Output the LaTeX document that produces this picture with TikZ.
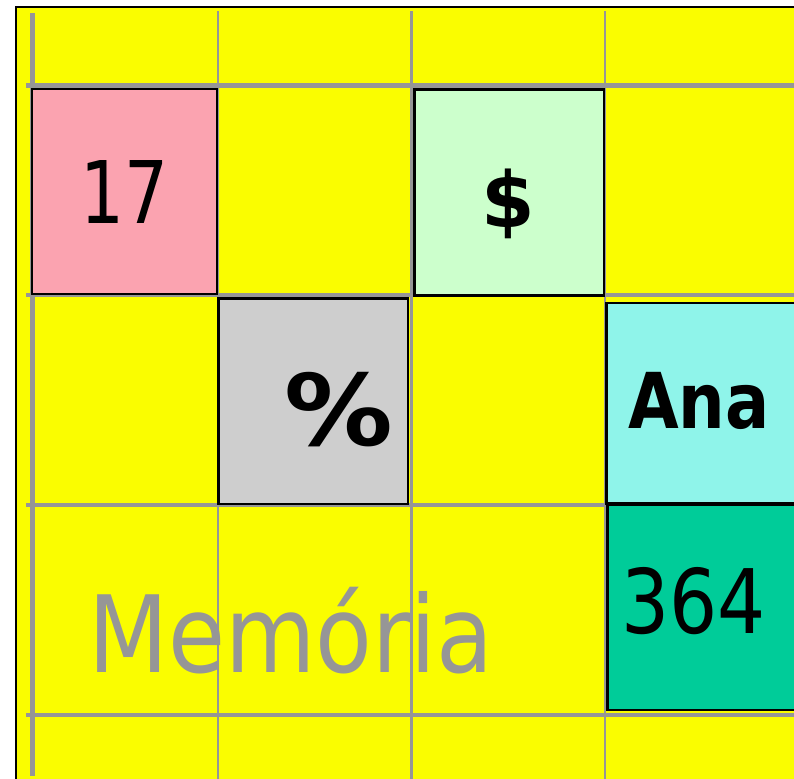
\documentclass[tikz,border=0pt]{standalone}
\usepackage{fontspec}
\setmainfont{DejaVu Sans}
\usepackage{graphicx}
\usepackage{xcolor}
\definecolor{memyellow}{RGB}{250,253,0}
\definecolor{gridgray}{RGB}{150,150,150}
\definecolor{softpink}{RGB}{251,163,176}
\definecolor{softgreen}{RGB}{204,255,204}
\definecolor{softgray}{RGB}{206,206,206}
\definecolor{softcyan}{RGB}{143,244,234}
\definecolor{seagreen}{RGB}{0,204,153}
\tikzset{
  gridthick/.style={draw=gridgray, line width=3.2pt},
  gridthin/.style={draw=gridgray, line width=1.9pt},
  cell/.style={draw=black, line width=1.7pt},
  value/.style={anchor=base, inner sep=0pt, text=black},
  label/.style={anchor=base, inner sep=0pt, text=gridgray},
}

\begin{document}
\begin{tikzpicture}[x=0.75pt, y=-0.75pt]
\useasboundingbox (0,0) rectangle (794,779);
\clip (0,0) rectangle (794,779);
\fill[white] (0,0) rectangle (794,779);
% memory area
\draw[fill=memyellow, line width=1.2pt] (16,7) rectangle (820,800);

% grid
\draw[gridthick] (32.5,13) -- (32.5,776);
\foreach \gx in {218,411.5,605}
  \draw[gridthin] (\gx,11) -- (\gx,790);
\foreach \gy in {85.5,295,505,715}
  \draw[gridthick] (26,\gy) -- (820,\gy);

% occupied cells
\draw[cell, fill=softpink] (32,89) rectangle (217,294);
\draw[cell, fill=softgreen] (414.5,89.5) rectangle (604,295.5);
\draw[cell, fill=softgray] (218.5,298.5) rectangle (408,504);
\draw[cell, fill=softcyan] (606.5,303) rectangle (820,503.5);
\draw[cell, fill=seagreen] (607.5,505) rectangle (820,710);

% contents
\node[value] (v17) at (124.5,223) {\fontsize{64.8pt}{70pt}\selectfont\scalebox{0.8}[1]{17}};
\node[value] (vdollar) at (508,227) {\fontsize{57.8pt}{62pt}\selectfont\bfseries\$};
\node[value] (vpercent) at (338.5,445) {\fontsize{74pt}{80pt}\selectfont\bfseries\scalebox{1.1}[1]{\%}};
\node[value] (vana) at (699,428) {\fontsize{57.8pt}{62pt}\selectfont\bfseries\scalebox{0.85}[1]{Ana}};
\node[value] (v364) at (693.5,633) {\fontsize{66.8pt}{72pt}\selectfont\scalebox{0.85}[1]{364}};
\node[label] (mem) at (291,672) {\fontsize{80pt}{86pt}\selectfont\scalebox{0.87}[1]{Memória}};
\end{tikzpicture}
\end{document}
